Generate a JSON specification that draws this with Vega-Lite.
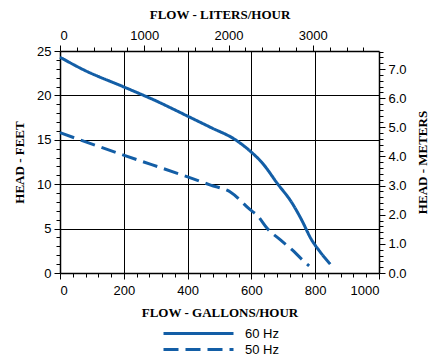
{
  "$schema": "https://vega.github.io/schema/vega-lite/v6.json",
  "autosize": {"type": "none"},
  "padding": {"left": 60, "top": 51, "right": 56, "bottom": 88},
  "width": 319,
  "height": 222,
  "background": "white",
  "config": {
    "view": {"stroke": null},
    "axis": {
      "grid": false,
      "domainColor": "#000",
      "domainWidth": 1.5,
      "tickColor": "#000",
      "tickWidth": 1,
      "labelFont": "Liberation Sans",
      "labelFontSize": 13,
      "labelColor": "#000",
      "labelOverlap": false,
      "titleFont": "Liberation Serif",
      "titleFontWeight": "bold",
      "titleFontSize": 13,
      "titleColor": "#000"
    }
  },
  "layer": [
    {
      "data": {
        "values": [
          {"gph": 0, "ft": 24.3, "Hz": "60 Hz"},
          {"gph": 73, "ft": 22.9, "Hz": "60 Hz"},
          {"gph": 197, "ft": 21.0, "Hz": "60 Hz"},
          {"gph": 300, "ft": 19.4, "Hz": "60 Hz"},
          {"gph": 398, "ft": 17.7, "Hz": "60 Hz"},
          {"gph": 472, "ft": 16.4, "Hz": "60 Hz"},
          {"gph": 550, "ft": 15.0, "Hz": "60 Hz"},
          {"gph": 597, "ft": 13.7, "Hz": "60 Hz"},
          {"gph": 634, "ft": 12.4, "Hz": "60 Hz"},
          {"gph": 681, "ft": 10.1, "Hz": "60 Hz"},
          {"gph": 728, "ft": 7.85, "Hz": "60 Hz"},
          {"gph": 760, "ft": 5.8, "Hz": "60 Hz"},
          {"gph": 786, "ft": 3.9, "Hz": "60 Hz"},
          {"gph": 815, "ft": 2.4, "Hz": "60 Hz"},
          {"gph": 847, "ft": 1.0, "Hz": "60 Hz"},
          {"gph": 0, "ft": 15.8, "Hz": "50 Hz"},
          {"gph": 197, "ft": 13.3, "Hz": "50 Hz"},
          {"gph": 398, "ft": 10.85, "Hz": "50 Hz"},
          {"gph": 472, "ft": 9.9, "Hz": "50 Hz"},
          {"gph": 535, "ft": 9.1, "Hz": "50 Hz"},
          {"gph": 597, "ft": 7.1, "Hz": "50 Hz"},
          {"gph": 618, "ft": 6.5, "Hz": "50 Hz"},
          {"gph": 650, "ft": 5.0, "Hz": "50 Hz"},
          {"gph": 692, "ft": 3.7, "Hz": "50 Hz"},
          {"gph": 728, "ft": 2.6, "Hz": "50 Hz"},
          {"gph": 755, "ft": 1.65, "Hz": "50 Hz"},
          {"gph": 781, "ft": 0.8, "Hz": "50 Hz"}
        ]
      },
      "mark": {"type": "line", "color": "#135ea6", "strokeWidth": 3, "interpolate": "monotone"},
      "encoding": {
        "x": {
          "field": "gph", "type": "quantitative",
          "scale": {"domain": [0, 1000], "nice": false, "zero": false},
          "axis": {
            "orient": "bottom",
            "title": "FLOW - GALLONS/HOUR",
            "format": "d",
            "values": [0,40,80,120,160,200,240,280,320,360,400,440,480,520,560,600,640,680,720,760,800,840,880,920,960,1000],
            "labelExpr": "datum.value % 200 === 0 ? datum.label : ''",
            "tickSize": {"condition": {"test": "datum.value % 200 === 0", "value": 6}, "value": 4},
            "labelPadding": 5,
            "titlePadding": 9,
            "grid": true,
            "gridColor": "#000",
            "gridWidth": 1,
            "gridOpacity": {"condition": {"test": "datum.value % 200 === 0 && datum.value > 0 && datum.value < 1000", "value": 1}, "value": 0}
          }
        },
        "y": {
          "field": "ft", "type": "quantitative",
          "scale": {"domain": [0, 25], "nice": false},
          "axis": {
            "orient": "left",
            "title": "HEAD - FEET",
            "values": [0,1,2,3,4,5,6,7,8,9,10,11,12,13,14,15,16,17,18,19,20,21,22,23,24,25],
            "labelExpr": "datum.value % 5 === 0 ? datum.label : ''",
            "tickSize": {"condition": {"test": "datum.value % 5 === 0", "value": 6}, "value": 4},
            "labelPadding": 3,
            "titlePadding": 10,
            "grid": true,
            "gridColor": "#000",
            "gridWidth": 1,
            "gridOpacity": {"condition": {"test": "datum.value % 5 === 0 && datum.value > 0 && datum.value < 25", "value": 1}, "value": 0}
          }
        },
        "strokeDash": {
          "field": "Hz", "type": "nominal",
          "scale": {"domain": ["60 Hz", "50 Hz"], "range": [[1, 0], [15, 7]]},
          "legend": {
            "orient": "none",
            "legendX": 130,
            "legendY": 274,
            "title": null,
            "direction": "vertical",
            "symbolType": "M-5,0H5",
            "symbolSize": 196,
            "symbolStrokeWidth": 3,
            "symbolStrokeColor": "#135ea6",
            "labelFont": "Liberation Sans",
            "labelFontSize": 13,
            "labelColor": "#000",
            "labelOffset": 38,
            "rowPadding": -2
          }
        }
      }
    },
    {
      "data": {"values": [{"lph": 0, "m": 0}, {"lph": 3785.41, "m": 7.62}]},
      "mark": {"type": "point", "opacity": 0},
      "encoding": {
        "x": {
          "field": "lph", "type": "quantitative",
          "scale": {"domain": [0, 3785.41], "nice": false},
          "axis": {
            "orient": "top",
            "title": "FLOW - LITERS/HOUR",
            "values": [0,200,400,600,800,1000,1200,1400,1600,1800,2000,2200,2400,2600,2800,3000,3200,3400,3600],
            "format": "d",
            "labelExpr": "datum.value % 1000 === 0 ? datum.label : ''",
            "tickSize": {"condition": {"test": "datum.value % 1000 === 0", "value": 6}, "value": 4},
            "labelPadding": 3,
            "titlePadding": 8
          }
        },
        "y": {
          "field": "m", "type": "quantitative",
          "scale": {"domain": [0, 7.62], "nice": false},
          "axis": {
            "orient": "right",
            "title": "HEAD - METERS",
            "titleAngle": -90,
            "titleBaseline": "top",
            "values": [0,0.2,0.4,0.6,0.8,1,1.2,1.4,1.6,1.8,2,2.2,2.4,2.6,2.8,3,3.2,3.4,3.6,3.8,4,4.2,4.4,4.6,4.8,5,5.2,5.4,5.6,5.8,6,6.2,6.4,6.6,6.8,7,7.2,7.4,7.6],
            "format": ".1f",
            "labelExpr": "abs(datum.value - round(datum.value)) < 0.01 ? datum.label : ''",
            "tickSize": {"condition": {"test": "abs(datum.value - round(datum.value)) < 0.01", "value": 6}, "value": 4},
            "labelPadding": 3,
            "titlePadding": 10
          }
        }
      }
    }
  ],
  "resolve": {"scale": {"x": "independent", "y": "independent"}}
}
